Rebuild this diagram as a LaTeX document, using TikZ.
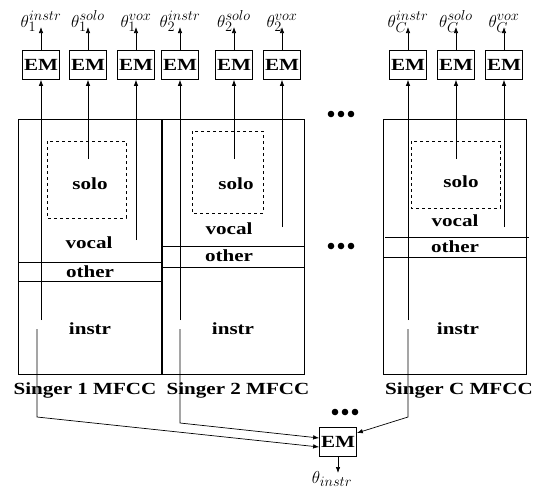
\documentclass[tikz,border=0pt]{standalone}
\usepackage{fontspec}
\setmainfont{Liberation Serif}[FakeStretch=1.24]
\usetikzlibrary{arrows.meta}

\begin{document}
\begin{tikzpicture}[
  x=1pt,y=-1pt,
  embox/.style={draw,minimum width=37pt,minimum height=29pt,inner sep=0pt,
                font=\fontsize{17}{18}\selectfont\bfseries},
  part/.style={font=\fontsize{17}{19}\selectfont\bfseries,inner sep=1pt},
  para/.style={font=\fontsize{19}{20}\selectfont,inner sep=0pt,anchor=base},
  arr/.style={-{Latex[length=6pt,width=4.5pt]},line width=0.7pt},
  line width=0.7pt,
]
\useasboundingbox (0,0) rectangle (534,488);

% Singer panels
\draw (18,119) rectangle (161,374);
\draw (162,119) rectangle (304,374);
\draw (383,119) rectangle (526,374);

% other bands
\draw (18,262) -- (161,262);
\draw (18,281) -- (161,281);
\draw (162,246) -- (304,246);
\draw (162,267) -- (304,267);
\draw (385,237) -- (529,237);
\draw (383,257) -- (526,257);

% solo regions
\draw[dashed] (47,141) rectangle (126,218);
\draw[dashed] (192,131) rectangle (263,213);
\draw[dashed] (411,141) rectangle (500,208);

% region labels
\node[part] (solo1) at (90,184) {solo};
\node[part] (vocal1) at (89,243) {vocal};
\node[part] (other1) at (90,272) {other};
\node[part] (instr1) at (90,329) {instr};
\node[part] (solo2) at (236,184) {solo};
\node[part] (vocal2) at (229,229) {vocal};
\node[part] (other2) at (229,256) {other};
\node[part] (instr2) at (233,329) {instr};
\node[part] (solo3) at (461,182) {solo};
\node[part] (vocal3) at (455,221) {vocal};
\node[part] (other3) at (455,247) {other};
\node[part] (instr3) at (458,329) {instr};

\node[part] (sing1) at (85,390) {Singer 1 MFCC};
\node[part] (sing2) at (238,390) {Singer 2 MFCC};
\node[part] (singC) at (459,390) {Singer C MFCC};

% per-singer EM boxes
\node[embox] (em1i) at (41,65) {EM};
\node[embox] (em1s) at (88,65) {EM};
\node[embox] (em1v) at (136,65) {EM};
\node[embox] (em2i) at (180,65) {EM};
\node[embox] (em2s) at (234,65) {EM};
\node[embox] (em2v) at (282,65) {EM};
\node[embox] (emCi) at (408,65) {EM};
\node[embox] (emCs) at (456,65) {EM};
\node[embox] (emCv) at (504,65) {EM};

% parameters
\node[para] (th1i) at (41,27) {$\theta_1^{instr}$};
\node[para] (th1s) at (88,27) {$\theta_1^{solo}$};
\node[para] (th1v) at (136,27) {$\theta_1^{vox}$};
\node[para] (th2i) at (180,27) {$\theta_2^{instr}$};
\node[para] (th2s) at (234,27) {$\theta_2^{solo}$};
\node[para] (th2v) at (282,27) {$\theta_2^{vox}$};
\node[para] (thCi) at (408,27) {$\theta_C^{instr}$};
\node[para] (thCs) at (456,27) {$\theta_C^{solo}$};
\node[para] (thCv) at (504,27) {$\theta_C^{vox}$};

\foreach \n in {1i,1s,1v,2i,2s,2v,Ci,Cs,Cv}
  \draw[arr] (em\n) -- (th\n.base);

% feature streams into EM
\coordinate (b1i) at (41,320);
\coordinate (b1s) at (88,159);
\coordinate (b1v) at (136,240);
\coordinate (b2i) at (180,320);
\coordinate (b2s) at (234,159);
\coordinate (b2v) at (282,227);
\coordinate (bCi) at (408,320);
\coordinate (bCs) at (456,159);
\coordinate (bCv) at (504,227);

\foreach \n in {1i,1s,1v,2i,2s,2v,Ci,Cs,Cv}
  \draw[arr] (b\n) -- (em\n);

% pooled instr EM
\node[embox] (emb) at (338,442) {EM};
\node[para] (thb) at (332,483) {$\theta_{instr}$};
\draw[arr] (emb) -- (emb |- 0,473);

\coordinate (p1a) at (37,329);
\coordinate (p1b) at (37,417);
\coordinate (p2a) at (180,329);
\coordinate (p2b) at (180,423);
\coordinate (pCa) at (408,329);
\coordinate (pCb) at (408,417);
\draw[arr] (p1a) -- (p1b) -- ([yshift=-5pt]emb.west);
\draw[arr] (p2a) -- (p2b) -- ([yshift=4pt]emb.west);
\draw[arr] (pCa) -- (pCb) -- ([yshift=9pt]emb.east);

% dots
\foreach \dx in {-10,0,10} {
  \fill (341+\dx,114) circle (3.3pt);
  \fill (341+\dx,246) circle (3.3pt);
  \fill (345+\dx,412) circle (3.3pt);
}

\end{tikzpicture}
\end{document}
